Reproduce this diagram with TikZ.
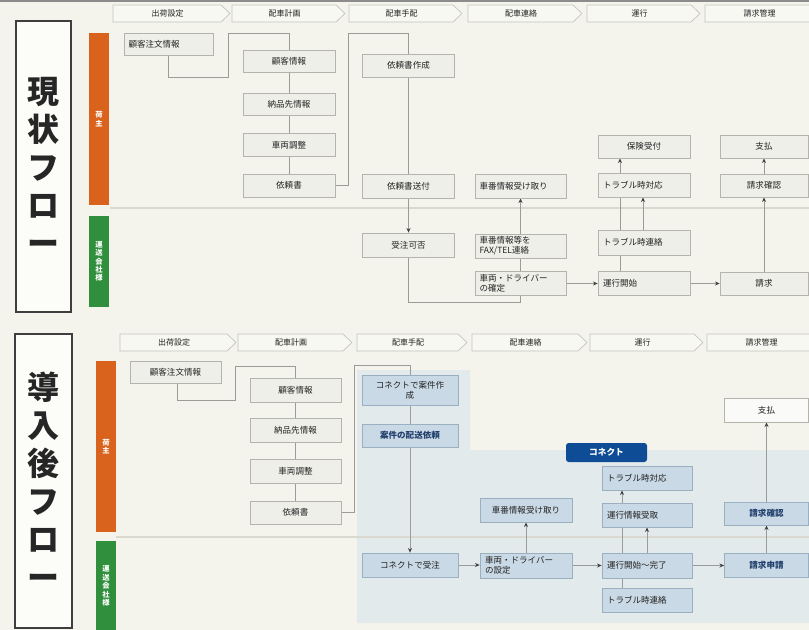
\documentclass[tikz,border=0pt]{standalone}
\usepackage{fontspec}
\setmainfont{Noto Sans CJK JP}
\usetikzlibrary{arrows.meta}
\pgfdeclarelayer{back}
\pgfdeclarelayer{lines}
\pgfsetlayers{back,lines,main}
\definecolor{bgc}{HTML}{F5F4EC}
\definecolor{boxfill}{HTML}{EFEFEA}
\definecolor{boxline}{HTML}{B4B4AC}
\definecolor{bluefill}{HTML}{C9D9E5}
\definecolor{blueline}{HTML}{9AAFBF}
\definecolor{bluetxt}{HTML}{22406E}
\definecolor{panelc}{HTML}{E2EAEB}
\definecolor{orangec}{HTML}{D9621C}
\definecolor{greenc}{HTML}{2F8F3C}
\definecolor{connc}{HTML}{0E4C95}
\definecolor{hdrline}{HTML}{C4C4BC}
\definecolor{hdrfill}{HTML}{F8F8F3}
\definecolor{divc}{HTML}{D9D9D0}
\definecolor{linec}{HTML}{9C9C96}
\definecolor{txtc}{HTML}{222222}
\definecolor{ttlline}{HTML}{3E3E3E}
\begin{document}
\begin{tikzpicture}[x=0.75pt,y=-0.75pt,
  wpx/.style={minimum width=#1*0.75pt},
  hpx/.style={minimum height=#1*0.75pt},
  box/.style={draw=boxline, fill=boxfill, line width=0.5pt, minimum width=69pt, minimum height=17.25pt, inner sep=1pt, font=\fontsize{6.4}{7.4}\selectfont, text=txtc, align=center},
  lbox/.style={box, align=left, text width=#1*0.75pt},
  bbox/.style={box, draw=blueline, fill=bluefill},
  lbbox/.style={lbox=#1, draw=blueline, fill=bluefill},
  btxt/.style={text=bluetxt, font=\fontsize{6.4}{7.4}\selectfont\bfseries},
  conn/.style={draw=linec, line width=0.6pt},
  arr/.style={conn, -{Stealth[length=3.5pt,width=3pt,color=black!75]}},
  hdr/.style={draw=hdrline, fill=hdrfill, line width=0.5pt},
  hdrtxt/.style={font=\fontsize{6}{7}\selectfont, text=txtc, inner sep=0pt},
  titlebox/.style={draw=ttlline, fill=white!70!bgc, line width=1.1pt, inner sep=0pt, align=center, font=\fontsize{24}{28.5}\selectfont\bfseries, text=black!85},
  lane/.style={inner sep=0pt, text=white, align=center, font=\fontsize{5.5}{6.3}\selectfont\bfseries}
]
\useasboundingbox (0,0) rectangle (809,630);
\begin{pgfonlayer}{back}
\fill[bgc] (0,0) rectangle (809,630);
\fill[black!45] (0,0) rectangle (809,2);
\fill[panelc] (357,370) -- (470,370) -- (470,450) -- (809,450) -- (809,623) -- (357,623) -- cycle;
\draw[divc, line width=1.5pt] (110,208) -- (809,208);
\draw[divc, line width=1.5pt] (116,537) -- (809,537);
\foreach \a/\b/\t/\n in {113/230/出荷設定/ha, 232/345/配車計画/hb, 349/462/配車手配/hc, 468/582/配車連絡/hd, 587/700/運行/he, 705/822/請求管理/hf}{
  \draw[hdr] (\a,5) -- (\b-9,5) -- (\b,13.5) -- (\b-9,22) -- (\a,22) -- cycle;
  \node[hdrtxt] (\n) at ({(\a+\b)/2-4},13.5) {\t};
}
\foreach \a/\b/\t/\n in {120/236/出荷設定/hA, 238/352/配車計画/hB, 357/467/配車手配/hC, 472/587/配車連絡/hD, 590/703/運行/hE, 707/824/請求管理/hF}{
  \draw[hdr] (\a,334) -- (\b-9,334) -- (\b,342.5) -- (\b-9,351) -- (\a,351) -- cycle;
  \node[hdrtxt] (\n) at ({(\a+\b)/2-4},342.5) {\t};
}
\end{pgfonlayer}

% titles and lanes
\node[titlebox, wpx=55, hpx=291] (ttl1) at (43.5,166.5) {現\\状\\フ\\ロ\\ー};
\node[titlebox, wpx=57, hpx=294] (ttl2) at (43.5,481) {導\\入\\後\\フ\\ロ\\ー};
\node[lane, fill=orangec, wpx=20, hpx=172] (ln1) at (99,119) {荷\\主};
\node[lane, fill=greenc, wpx=20, hpx=91] (ln2) at (99,261.5) {運\\送\\会\\社\\様};
\node[lane, fill=orangec, wpx=20, hpx=171] (ln3) at (106,446.5) {荷\\主};
\node[lane, fill=greenc, wpx=20, hpx=90] (ln4) at (106,586) {運\\送\\会\\社\\様};

% ---------- current flow ----------
\node[lbox=80, wpx=89, hpx=22] (k1) at (168.5,44) {顧客注文情報};
\node[box, wpx=92, hpx=22] (kk1) at (289,61.5) {顧客情報};
\node[box, wpx=92, hpx=22] (kk2) at (289,104) {納品先情報};
\node[box, wpx=92, hpx=23] (kk3) at (289,145) {車両調整};
\node[box, wpx=92, hpx=23] (kk4) at (289,185.5) {依頼書};
\node[box, wpx=92, hpx=23] (t1) at (408.5,65.5) {依頼書作成};
\node[box, wpx=92, hpx=24] (t2) at (408.5,186) {依頼書送付};
\node[box, wpx=92, hpx=24] (t3) at (408.5,245) {受注可否};
\node[lbox=82, wpx=91, hpx=24] (s1) at (520.5,186) {車番情報受け取り};
\node[lbox=82, wpx=91, hpx=24] (s2) at (520.5,246) {車番情報等を\\FAX/TEL連絡};
\node[lbox=82, wpx=91, hpx=24] (s3) at (520.5,283.5) {車両・ドライバー\\の確定};
\node[box, wpx=92, hpx=23] (r1) at (644,146.5) {保険受付};
\node[lbox=82, wpx=92, hpx=24] (r2) at (644,185) {トラブル時対応};
\node[lbox=82, wpx=92, hpx=25] (r3) at (644,242.5) {トラブル時連絡};
\node[lbox=82, wpx=92, hpx=24] (r4) at (644,283.5) {運行開始};
\node[box, wpx=88, hpx=23] (q1) at (764,146.5) {支払};
\node[box, wpx=88, hpx=23] (q2) at (764,185.5) {請求確認};
\node[box, wpx=88, hpx=23] (q3) at (764,283.5) {請求};

% ---------- after flow ----------
\node[box, wpx=91, hpx=22] (K1) at (175.5,372) {顧客注文情報};
\node[box, wpx=91, hpx=24] (KK1) at (295.5,390) {顧客情報};
\node[box, wpx=91, hpx=24] (KK2) at (295.5,430) {納品先情報};
\node[box, wpx=91, hpx=24] (KK3) at (295.5,471) {車両調整};
\node[box, wpx=91, hpx=23] (KK4) at (295.5,512.5) {依頼書};
\node[bbox, wpx=96, hpx=30] (T1) at (410,390) {コネクトで案件作\\成};
\node[bbox, btxt, wpx=96, hpx=23] (T2) at (410,435.5) {案件の配送依頼};
\node[bbox, wpx=96, hpx=24] (T3) at (410,565) {コネクトで受注};
\node[bbox, wpx=92, hpx=24] (S1) at (526,510) {車番情報受け取り};
\node[lbbox=82, wpx=92, hpx=25] (S2) at (526,565.5) {車両・ドライバー\\の設定};
\node[lbbox=80, wpx=90, hpx=24] (R1) at (647,478) {トラブル時対応};
\node[lbbox=80, wpx=90, hpx=24] (R2) at (647,515) {運行情報受取};
\node[lbbox=80, wpx=90, hpx=25] (R3) at (647,565.5) {運行開始～完了};
\node[lbbox=80, wpx=90, hpx=24] (R4) at (647,600) {トラブル時連絡};
\node[box, fill=white!70!boxfill, wpx=84, hpx=24] (Q1) at (766.5,410) {支払};
\node[bbox, btxt, wpx=84, hpx=23] (Q2) at (766.5,513.5) {請求確認};
\node[bbox, btxt, wpx=84, hpx=24] (Q3) at (766.5,565) {請求申請};
\node[fill=connc, rounded corners=2pt, wpx=81, hpx=19, inner sep=0pt, text=white, font=\fontsize{6.5}{7.5}\selectfont\bfseries] (cn) at (606.5,452.5) {コネクト};

% ---------- connectors ----------
\begin{pgfonlayer}{lines}
% current
\draw[conn] (k1.south) -- (k1.south |- 0,77) -- (228,77) -- (228,33) -- (kk1.north |- 0,33) -- (kk1.north);
\draw[conn] (kk1) -- (kk2) -- (kk3) -- (kk4);
\draw[conn] (kk4.east) -- (348,185.5) -- (348,33) -- (t1.north |- 0,33) -- (t1.north);
\draw[conn] (t1) -- (t2);
\draw[arr] (t2.south) -- (t3.north);
\draw[arr] (t3.south) -- (t3.south |- 0,302) -| (s1.south);
\draw[arr] (s3.east) -- (r4.west |- s3.east);
\draw[arr] (r4.north -| 620,0) -- (r1.south -| 620,0);
\draw[arr] (r3.north -| 643,0) -- (r2.south -| 643,0);
\draw[arr] (r4.east) -- (q3.west);
\draw[arr] (q3.north) -- (q2.south);
\draw[arr] (q2.north) -- (q1.south);
% after
\draw[conn] (K1.south -| 177,0) -- (177,400) -- (235,400) -- (235,366) -- (KK1.north |- 0,366) -- (KK1.north);
\draw[conn] (KK1) -- (KK2) -- (KK3) -- (KK4);
\draw[conn] (KK4.east) -- (354,512.5) -- (354,365) -- (T1.north |- 0,365) -- (T1.north);
\draw[conn] (T1) -- (T2);
\draw[arr] (T2.south) -- (T3.north);
\draw[arr] (T3.east) -- (S2.west |- T3.east);
\draw[arr] (S2.north) -- (S1.south);
\draw[arr] (S2.east) -- (R3.west |- S2.east);
\draw[arr] (R3.north) -- (R2.south);
\draw[arr] (R4.north -| 622,0) -- (R1.south -| 622,0);
\draw[arr] (R3.east) -- (Q3.west |- R3.east);
\draw[arr] (Q3.north) -- (Q2.south);
\draw[arr] (Q2.north) -- (Q1.south);
\end{pgfonlayer}
\end{tikzpicture}
\end{document}
